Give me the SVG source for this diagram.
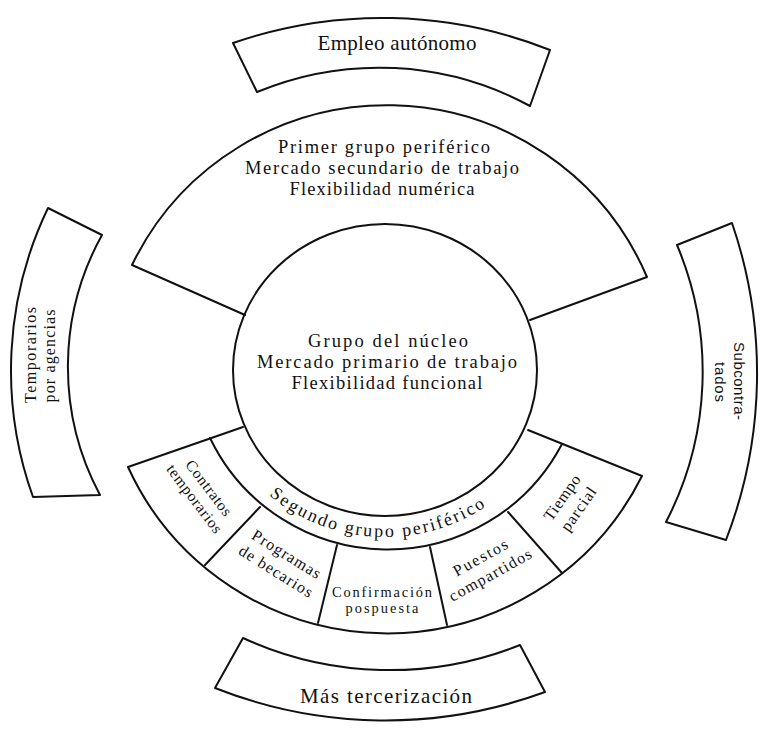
<svg xmlns="http://www.w3.org/2000/svg" width="760" height="731" viewBox="0 0 760 731">
<defs>
<style>
.ln{fill:none;stroke:#111;stroke-width:2;stroke-linejoin:round;stroke-linecap:round}
.bx{fill:#fff;stroke:#111;stroke-width:2;stroke-linejoin:round}
.t{font-family:"Liberation Serif","Times New Roman",serif;fill:#111;text-anchor:middle}
.s{font-family:"Liberation Sans",Arial,sans-serif;fill:#111;text-anchor:middle}
</style>
<path id="segPath" d="M227.4,446 A182,182 0 0,0 542.6,446"/>
</defs>
<rect width="760" height="731" fill="#fff"/>

<g id="empleo-autonomo">
<path class="bx" d="M233,43 A456,456 0 0,1 550,50 L530,106 A317,317 0 0,0 257,92 Z"/>
<text class="t" x="397" y="50" font-size="21" textLength="159" lengthAdjust="spacing">Empleo autónomo</text>
</g>

<g id="temporarios">
<path class="bx" d="M48,208 L102,235 A272,272 0 0,0 100,495 L33,497 A375,375 0 0,1 48,208 Z"/>
<text class="t" transform="rotate(-90)" x="-355" y="36" font-size="16" textLength="96" lengthAdjust="spacing">Temporarios</text>
<text class="t" transform="rotate(-90)" x="-356" y="55" font-size="16" textLength="93" lengthAdjust="spacing">por agencias</text>
</g>

<g id="subcontratados">
<path class="bx" d="M677,245 L732,223 A463,463 0 0,1 726,540 L666,522 A326,326 0 0,0 677,245 Z"/>
<text class="s" transform="rotate(90)" x="381" y="-734" font-size="15" textLength="78" lengthAdjust="spacing">Subcontra-</text>
<text class="s" transform="rotate(90)" x="382" y="-715" font-size="15" textLength="40" lengthAdjust="spacing">tados</text>
</g>

<g id="mas-tercerizacion">
<path class="bx" d="M243,638 A351,351 0 0,0 520,645 L545,692 A463,463 0 0,1 215,688 Z"/>
<text class="t" x="386" y="703" font-size="21" textLength="172" lengthAdjust="spacing">Más tercerización</text>
</g>

<g id="primer-grupo">
<path class="ln" d="M245,315 L132,265 A283,283 0 0,1 647,277 L530,320"/>
<text class="t" x="384" y="153" font-size="18.5" textLength="212" lengthAdjust="spacing">Primer grupo periférico</text>
<text class="t" x="382" y="174" font-size="18.5" textLength="274" lengthAdjust="spacing">Mercado secundario de trabajo</text>
<text class="t" x="382" y="195" font-size="18.5" textLength="185" lengthAdjust="spacing">Flexibilidad numérica</text>
</g>

<g id="nucleo">
<ellipse class="ln" cx="385" cy="370" rx="152" ry="146"/>
<text class="t" x="388" y="347" font-size="18.5" textLength="160" lengthAdjust="spacing">Grupo del núcleo</text>
<text class="t" x="387" y="368" font-size="18.5" textLength="260" lengthAdjust="spacing">Mercado primario de trabajo</text>
<text class="t" x="387" y="389" font-size="18.5" textLength="191" lengthAdjust="spacing">Flexibilidad funcional</text>
</g>

<g id="segundo-grupo">
<path class="ln" d="M243,427 L128,467 A285,285 0 0,0 642,476 L528,430"/>
<path class="ln" d="M210,438 A197,197 0 0,0 562,444"/>
<text class="t" font-size="18"><textPath href="#segPath" startOffset="47.5%" textLength="232" lengthAdjust="spacing">Segundo grupo periférico</textPath></text>
</g>

<g id="contratos-temporarios">
<path class="ln" d="M205,565 L260,507"/>
<g transform="translate(201.5,493.5) rotate(53)">
<text class="t" x="0" y="-4" font-size="15.5" textLength="66" lengthAdjust="spacing">Contratos</text>
<text class="t" x="0" y="14" font-size="15.5" textLength="82" lengthAdjust="spacing">temporarios</text>
</g>
</g>

<g id="programas-becarios">
<path class="ln" d="M318,623 L337,545"/>
<g transform="translate(281,563) rotate(32)">
<text class="t" x="0" y="-5" font-size="16" textLength="78" lengthAdjust="spacing">Programas</text>
<text class="t" x="0" y="15" font-size="16" textLength="84" lengthAdjust="spacing">de becarios</text>
</g>
</g>

<g id="confirmacion-pospuesta">
<path class="ln" d="M447,625 L430,547"/>
<text class="t" x="382" y="597" font-size="14.4" textLength="100" lengthAdjust="spacing">Confirmación</text>
<text class="t" x="382" y="613" font-size="14.4" textLength="73" lengthAdjust="spacing">pospuesta</text>
</g>

<g id="puestos-compartidos">
<path class="ln" d="M562,573 L508,512"/>
<g transform="translate(485.5,566.5) rotate(-29)">
<text class="t" x="0" y="-5" font-size="16" textLength="60" lengthAdjust="spacing">Puestos</text>
<text class="t" x="0" y="15" font-size="16" textLength="92" lengthAdjust="spacing">compartidos</text>
</g>
</g>

<g id="tiempo-parcial">
<g transform="translate(570.5,503.5) rotate(-55)">
<text class="t" x="0" y="-5" font-size="16" textLength="52" lengthAdjust="spacing">Tiempo</text>
<text class="t" x="0" y="15" font-size="16" textLength="50" lengthAdjust="spacing">parcial</text>
</g>
</g>
</svg>
